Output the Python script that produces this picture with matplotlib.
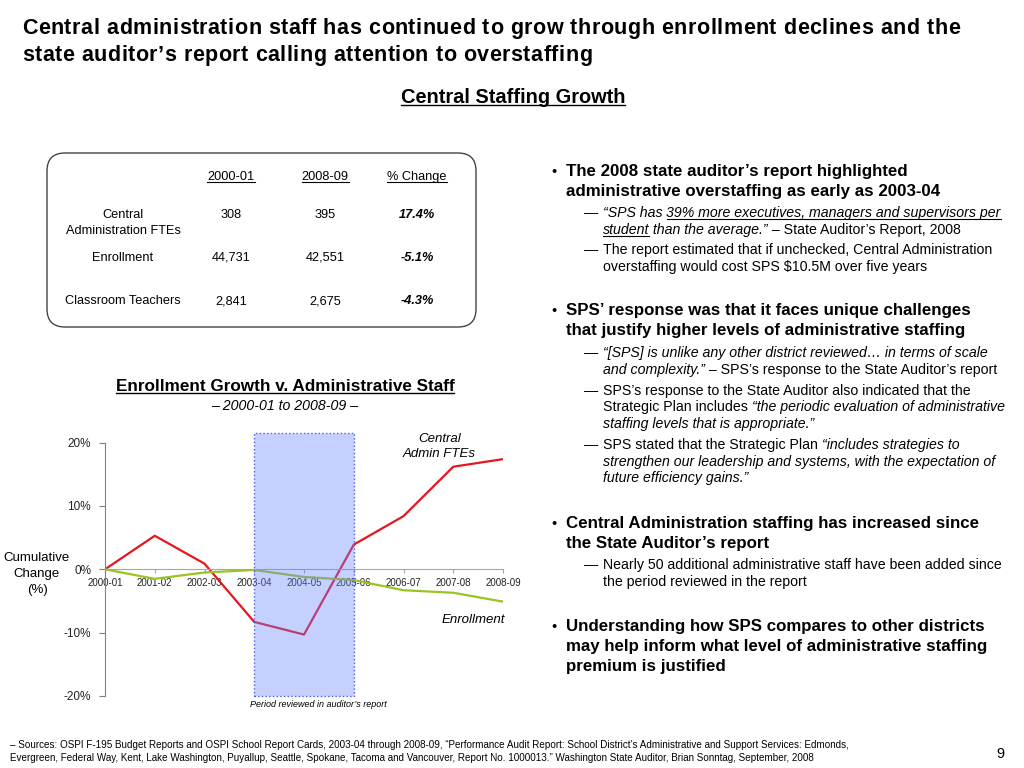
import matplotlib.pyplot as plt
from matplotlib.font_manager import FontProperties
from matplotlib.patches import FancyBboxPatch, Rectangle
from matplotlib.lines import Line2D
from matplotlib.transforms import IdentityTransform

FAM = ['Liberation Sans', 'DejaVu Sans']
plt.rcParams['font.family'] = FAM

# chart data (cumulative % change vs 2000-01)
years = ['2000-01', '2001-02', '2002-03', '2003-04', '2004-05',
         '2005-06', '2006-07', '2007-08', '2008-09']
central_admin = [0, 5.3, 0.9, -8.3, -10.3, 3.9, 8.4, 16.2, 17.4]
enrollment = [0, -1.5, -0.5, -0.1, -1.2, -1.7, -3.3, -3.7, -5.1]
review_from, review_to = 3, 5   # 2003-04 .. 2005-06

# table data
table_cols = ['2000-01', '2008-09', '% Change']
table_rows = ['Central\nAdministration FTEs', 'Enrollment', 'Classroom Teachers']
table_start = ['308', '44,731', '2,841']
table_end = ['395', '42,551', '2,675']
table_change = ['17.4%', '-5.1%', '-4.3%']

W, H = 1024, 768
fig = plt.figure(figsize=(W / 100, H / 100), dpi=100)
ID = IdentityTransform()
R = fig.canvas.get_renderer()

STY = {'n': {}, 'i': dict(style='italic'), 'b': dict(weight='bold'),
       'bi': dict(weight='bold', style='italic')}


def fprop(size, key='n', family=FAM):
    return FontProperties(family=family, size=size, **STY[key])


def advance(s, fp):
    w1 = R.get_text_width_height_descent('|' + s + '|', fp, ismath=False)[0]
    w0 = R.get_text_width_height_descent('||', fp, ismath=False)[0]
    return w1 - w0


def uline(x0, x1, y, lw=0.8):
    fig.add_artist(Line2D([x0, x1], [H - y - 2, H - y - 2], transform=ID,
                          color='black', lw=lw))


def put(x, y, parts, size, ha='left', track=0.0):
    # y = baseline in pixels from the top; track = extra px per character
    if isinstance(parts, str):
        parts = [(parts, 'n')]
    fps = []
    for s, st in parts:
        key = st.rstrip('u') or 'n'
        fps.append(fprop(size, key))
    widths = [advance(s, fp) + track * len(s) for (s, _), fp in zip(parts, fps)]
    if ha == 'center':
        x = x - sum(widths) / 2
    for (s, st), fp, w in zip(parts, fps, widths):
        if track:
            cx = x
            for ch in s:
                fig.text(cx, H - y, ch, transform=ID, fontproperties=fp,
                         va='baseline', ha='left', parse_math=False)
                cx += advance(ch, fp) + track
        else:
            fig.text(x, H - y, s, transform=ID, fontproperties=fp,
                     va='baseline', ha='left', parse_math=False)
        if st.endswith('u'):
            uline(x, x + w - track, y, lw=1.0 if size > 11 else 0.8)
        x += w


# titles
put(22, 34, [('Central administration staff has continued to grow through enrollment declines and the', 'b')],
    15.5, track=0.5)
put(22, 61, [('state auditor’s report calling attention to overstaffing', 'b')], 15.5, track=0.5)
put(513, 103, [('Central Staffing Growth', 'bu')], 14.4, ha='center')

# table box
fig.add_artist(FancyBboxPatch((47, H - 327), 429, 174, transform=ID,
                              boxstyle='round,pad=0,rounding_size=18',
                              facecolor='none', edgecolor='#444444', lw=1))
TS = 9.2
col_x = [231, 325, 417]
for cx, c in zip(col_x, table_cols):
    put(cx, 180, [(c, 'u')], TS, ha='center')
row_y = [218, 261, 304]
for ry, name, a, b, ch in zip(row_y, table_rows, table_start, table_end, table_change):
    for k, part in enumerate(name.split('\n')):
        put(123, ry + 16 * k, part, TS, ha='center')
    put(col_x[0], ry, a, TS, ha='center')
    put(col_x[1], ry, b, TS, ha='center')
    put(col_x[2], ry, [(ch, 'bi')], TS, ha='center')

# chart titles
put(285, 391, [('Enrollment Growth v. Administrative Staff', 'bu')], 12.3, ha='center')
put(285, 410, [('– 2000-01 to 2008-09 –', 'i')], 10.2, ha='center')

# chart
ax = fig.add_axes([105 / W, 1 - 696 / H, 398 / W, 266 / H])
ax.patch.set_visible(False)
for s in ['top', 'right']:
    ax.spines[s].set_visible(False)
ax.spines['bottom'].set_position(('data', 0))
ax.spines['bottom'].set_color('#a6a6a6')
ax.spines['left'].set_bounds(-20, 20)
ax.spines['left'].set_color('#808080')

x = list(range(len(years)))
ax.plot(x, central_admin, color='#e5161e', lw=1.6, zorder=2)
ax.plot(x, enrollment, color='#9cc420', lw=1.6, zorder=2)
ax.add_patch(Rectangle((review_from, -20), review_to - review_from, 41.6,
                       facecolor=(0.42, 0.52, 1.0, 0.38), edgecolor='#4b5fe6',
                       linestyle=':', lw=1.0, zorder=3, clip_on=False))
ax.set_xlim(0, 8)
ax.set_ylim(-20, 22)
ax.set_xticks(x)
ax.set_xticklabels(years)
ax.set_yticks([-20, -10, 0, 10, 20])
ax.set_yticklabels(['-20%', '-10%', '0%', '10%', '20%'])
ax.tick_params(axis='x', length=3, pad=3, labelsize=7, colors='#a6a6a6', labelcolor='#222222')
ax.tick_params(axis='y', length=4, pad=6, labelsize=8.5, colors='#808080', labelcolor='#222222')

ax.text(6.72, 19.4, 'Central\nAdmin FTEs', fontsize=9.5, style='italic',
        ha='center', va='center', linespacing=1.35)
ax.text(7.4, -8.0, 'Enrollment', fontsize=9.5, style='italic', ha='center', va='center')
ax.text(4.28, -21.4, 'Period reviewed in auditor’s report', fontsize=6.5,
        style='italic', ha='center', va='center')
fig.text(37, H - 574, 'Cumulative\nChange\n(%)', transform=ID, fontsize=9.5,
         ha='center', va='center', linespacing=1.45)

# right-hand commentary
BULLET, SUB = 12.2, 10.2
bullets = [
    ([176, 196], ['The 2008 state auditor’s report highlighted',
                  'administrative overstaffing as early as 2003-04'],
     [
         ([217, 234], [[('“SPS has ', 'i'), ('39% more executives, managers and supervisors per', 'iu')],
                       [('student', 'iu'), (' than the average.”', 'i'), (' – State Auditor’s Report, 2008', 'n')]]),
         ([254, 271], [[('The report estimated that if unchecked, Central Administration', 'n')],
                       [('overstaffing would cost SPS $10.5M over five years', 'n')]]),
     ]),
    ([315, 335], ['SPS’ response was that it faces unique challenges',
                  'that justify higher levels of administrative staffing'],
     [
         ([357, 374], [[('“[SPS] is unlike any other district reviewed… in terms of scale', 'i')],
                       [('and complexity.”', 'i'), (' – SPS’s response to the State Auditor’s report', 'n')]]),
         ([395, 411, 428], [[('SPS’s response to the State Auditor also indicated that the', 'n')],
                            [('Strategic Plan includes ', 'n'), ('“the periodic evaluation of administrative', 'i')],
                            [('staffing levels that is appropriate.”', 'i')]]),
         ([449, 466, 482], [[('SPS stated that the Strategic Plan ', 'n'), ('“includes strategies to', 'i')],
                            [('strengthen our leadership and systems, with the expectation of', 'i')],
                            [('future efficiency gains.”', 'i')]]),
     ]),
    ([528, 548], ['Central Administration staffing has increased since',
                  'the State Auditor’s report'],
     [
         ([569, 586], [[('Nearly 50 additional administrative staff have been added since', 'n')],
                       [('the period reviewed in the report', 'n')]]),
     ]),
    ([631, 651, 671], ['Understanding how SPS compares to other districts',
                       'may help inform what level of administrative staffing',
                       'premium is justified'], []),
]
for ys, lines, subs in bullets:
    put(551, ys[0], '•', 10.5)
    for yy, ln in zip(ys, lines):
        put(566, yy, [(ln, 'b')], BULLET)
    for sys_, slines in subs:
        put(584, sys_[0], '—', SUB)
        for yy, parts in zip(sys_, slines):
            put(603, yy, parts, SUB)

# footer
foot = ['– Sources: OSPI F-195 Budget Reports and OSPI School Report Cards, 2003-04 through 2008-09, “Performance Audit Report: School District’s Administrative and Support Services: Edmonds,',
        'Evergreen, Federal Way, Kent, Lake Washington, Puyallup, Seattle, Spokane, Tacoma and Vancouver, Report No. 1000013.” Washington State Auditor, Brian Sonntag, September, 2008']
for k, ln in enumerate(foot):
    fig.text(10, H - 748 - 13 * k, ln, transform=ID, fontsize=7.1,
             va='baseline', parse_math=False)
fig.text(1000, H - 758, '9', transform=ID, fontsize=10.5, ha='center', va='baseline')

fig.savefig('out.png', dpi=100)
